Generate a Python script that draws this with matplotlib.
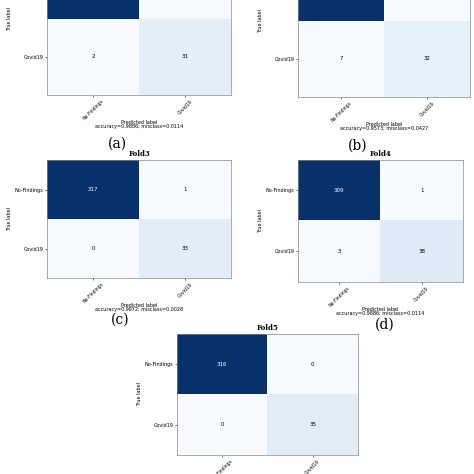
import matplotlib
matplotlib.use("Agg")
from matplotlib import pyplot as plt
import numpy as np

classes = ["No-Findings", "Covid19"]
titles = ["Fold1", "Fold2", "Fold3", "Fold4", "Fold5"]
panel_tags = ["(a)", "(b)", "(c)", "(d)", ""]
fold1 = np.array([[316, 2], [2, 31]])
fold2 = np.array([[304, 8], [7, 32]])
fold3 = np.array([[317, 1], [0, 33]])
fold4 = np.array([[309, 1], [3, 38]])
fold5 = np.array([[316, 0], [0, 35]])
accuracy = [0.9886, 0.9573, 0.9972, 0.9886, 1.0]
misclass = [0.0114, 0.0427, 0.0028, 0.0114, 0.0]
matrices = [fold1, fold2, fold3, fold4, fold5]

# axes boxes in pixels: x0, x1, y0(top), y1(bottom)
boxes = [(47, 231, -57, 95), (298, 470, -55, 97), (47, 231, 160, 278),
         (298, 463, 160, 282), (177, 358, 334, 455)]
tag_pos = [(117, 144), (358, 146), (120, 320), (385, 325)]

W = 474
fig = plt.figure(figsize=(4.74, 4.74), dpi=100)

for k, cm in enumerate(matrices):
    x0, x1, y0, y1 = boxes[k]
    ax = fig.add_axes([x0 / W, 1 - y1 / W, (x1 - x0) / W, (y1 - y0) / W])
    ax.imshow(cm, cmap="Blues", interpolation="nearest", aspect="auto")
    thresh = cm.max() / 2
    for i in range(2):
        for j in range(2):
            ax.text(j, i, str(cm[i, j]), ha="center", va="center", fontsize=4,
                    color="white" if cm[i, j] > thresh else "black")
    ax.set_xticks(range(2))
    ax.set_xticklabels(classes, rotation=45, fontsize=3.3)
    ax.set_yticks(range(2))
    ax.set_yticklabels(classes, fontsize=3.5)
    ax.tick_params(length=1.5, width=0.4, pad=1)
    ax.set_ylabel("True label", fontsize=3.5, labelpad=2)
    if k < 4:
        ax.set_xlabel("Predicted label\naccuracy={:.4f}; misclass={:.4f}".format(
            accuracy[k], misclass[k]), fontsize=3.5, labelpad=-1, linespacing=0.9)
    ax.set_title(titles[k], fontsize=5, fontweight="bold", family="serif", pad=3)
    for s in ax.spines.values():
        s.set_linewidth(0.5)
        s.set_color("#888888")

for k, (tx, ty) in enumerate(tag_pos):
    fig.text(tx / W, 1 - ty / W, panel_tags[k], fontsize=10, family="serif",
             ha="center", va="center")

fig.savefig("out.png", dpi=100)
